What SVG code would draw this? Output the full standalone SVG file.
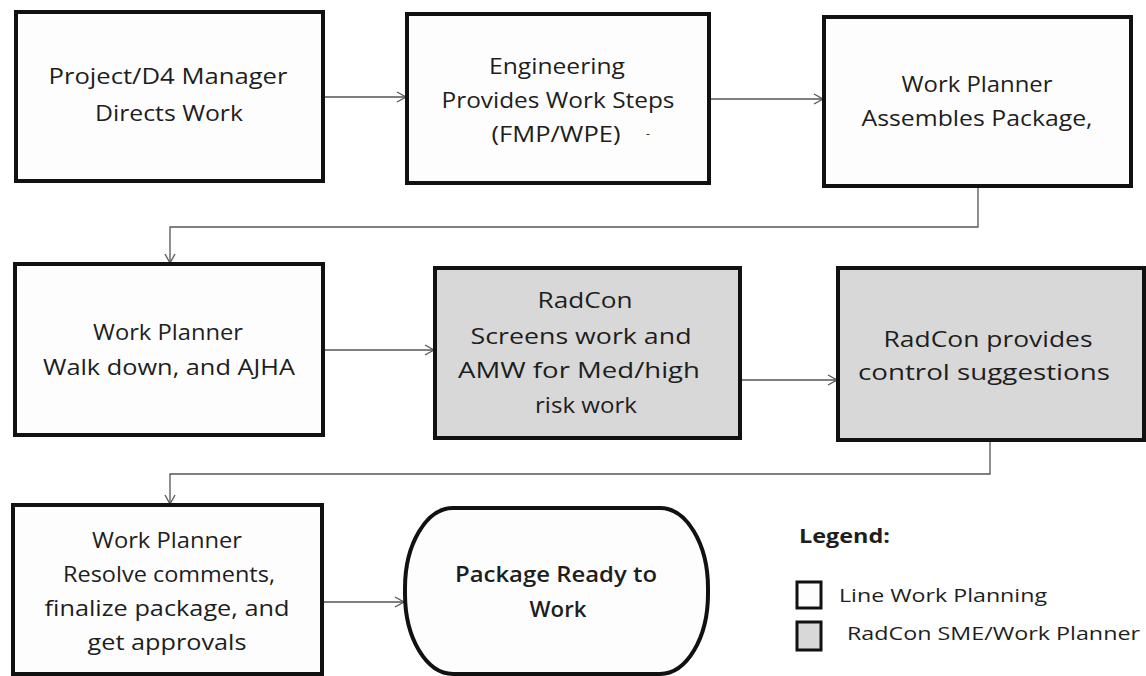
<svg xmlns="http://www.w3.org/2000/svg" width="1146" height="676" viewBox="0 0 1146 676">
<style>
.box{stroke:#111;stroke-width:4;fill:#fdfdfd}
.gray{fill:#d8d8d8}
.t{font-family:"Open Sans","Liberation Sans",sans-serif;font-size:22px;fill:#1e1e1e;text-anchor:middle}
.b{font-weight:bold}
.c{fill:none;stroke:#555;stroke-width:1.3}
</style>
<defs>
<marker id="ar" markerWidth="12" markerHeight="12" refX="10" refY="6" orient="auto" markerUnits="userSpaceOnUse">
<path d="M1,1 L10,6 L1,11" fill="none" stroke="#555" stroke-width="1.3"/>
</marker>
</defs>
<rect width="1146" height="676" fill="#ffffff"/>
<g id="connectors">
<path class="c" d="M323,97 H406" marker-end="url(#ar)"/>
<path class="c" d="M709,99 H823" marker-end="url(#ar)"/>
<path class="c" d="M978,186 V227 H170 V263" marker-end="url(#ar)"/>
<path class="c" d="M323,350 H434" marker-end="url(#ar)"/>
<path class="c" d="M740,380 H837" marker-end="url(#ar)"/>
<path class="c" d="M990,440 V474 H170 V504" marker-end="url(#ar)"/>
<path class="c" d="M322,602 H404" marker-end="url(#ar)"/>
</g>
<g id="n1">
<rect class="box" x="16" y="12" width="307" height="169"/>
<text class="t" x="168" y="84" textLength="239" lengthAdjust="spacingAndGlyphs">Project/D4 Manager</text>
<text class="t" x="169" y="121" textLength="148" lengthAdjust="spacingAndGlyphs">Directs Work</text>
</g>
<g id="n2">
<rect class="box" x="407" y="14" width="302" height="169"/>
<text class="t" x="557" y="74" textLength="136" lengthAdjust="spacingAndGlyphs">Engineering</text>
<text class="t" x="558" y="108" textLength="233" lengthAdjust="spacingAndGlyphs">Provides Work Steps</text>
<text class="t" x="556" y="142" textLength="129" lengthAdjust="spacingAndGlyphs">(FMP/WPE)</text>
<text class="t" x="648" y="138" style="font-size:12px">-</text>
</g>
<g id="n3">
<rect class="box" x="824" y="17" width="307" height="169"/>
<text class="t" x="977" y="92" textLength="151" lengthAdjust="spacingAndGlyphs">Work Planner</text>
<text class="t" x="977" y="126" textLength="231" lengthAdjust="spacingAndGlyphs">Assembles Package,</text>
</g>
<g id="n4">
<rect class="box" x="15" y="264" width="308" height="171"/>
<text class="t" x="168" y="340" textLength="150" lengthAdjust="spacingAndGlyphs">Work Planner</text>
<text class="t" x="169" y="375" textLength="252" lengthAdjust="spacingAndGlyphs">Walk down,  and AJHA</text>
</g>
<g id="n5">
<rect class="box gray" x="435" y="268" width="305" height="170"/>
<text class="t" x="585" y="308" textLength="95" lengthAdjust="spacingAndGlyphs">RadCon</text>
<text class="t" x="581" y="344" textLength="221" lengthAdjust="spacingAndGlyphs">Screens work and</text>
<text class="t" x="579" y="378" textLength="242" lengthAdjust="spacingAndGlyphs">AMW for Med/high</text>
<text class="t" x="586" y="413" textLength="102" lengthAdjust="spacingAndGlyphs">risk work</text>
</g>
<g id="n6">
<rect class="box gray" x="838" y="268" width="306" height="172"/>
<text class="t" x="988" y="347" textLength="209" lengthAdjust="spacingAndGlyphs">RadCon provides</text>
<text class="t" x="984" y="380" textLength="252" lengthAdjust="spacingAndGlyphs">control suggestions</text>
</g>
<g id="n7">
<rect class="box" x="13" y="505" width="309" height="169"/>
<text class="t" x="167" y="548" textLength="150" lengthAdjust="spacingAndGlyphs">Work Planner</text>
<text class="t" x="169" y="582" textLength="212" lengthAdjust="spacingAndGlyphs">Resolve comments,</text>
<text class="t" x="167" y="616" textLength="245" lengthAdjust="spacingAndGlyphs">finalize package, and</text>
<text class="t" x="167" y="650" textLength="159" lengthAdjust="spacingAndGlyphs">get approvals</text>
</g>
<g id="n8">
<rect class="box" x="405" y="508" width="303" height="166" rx="48" ry="80"/>
<text class="t" x="556" y="582" style="font-weight:600" textLength="202" lengthAdjust="spacingAndGlyphs">Package Ready to</text>
<text class="t" x="558" y="617" style="font-weight:600" textLength="57" lengthAdjust="spacingAndGlyphs">Work</text>
</g>
<g id="legend">
<text class="t b" x="799" y="543" style="text-anchor:start;font-size:20px" textLength="91" lengthAdjust="spacingAndGlyphs">Legend:</text>
<rect x="797" y="582" width="24" height="26" fill="#fdfdfd" stroke="#111" stroke-width="3"/>
<rect x="797" y="622" width="24" height="28" fill="#d8d8d8" stroke="#111" stroke-width="3"/>
<text class="t" x="839" y="602" style="text-anchor:start;font-size:19px" textLength="208" lengthAdjust="spacingAndGlyphs">Line Work Planning</text>
<text class="t" x="847" y="640" style="text-anchor:start;font-size:19px" textLength="293" lengthAdjust="spacingAndGlyphs">RadCon SME/Work Planner</text>
</g>
</svg>
